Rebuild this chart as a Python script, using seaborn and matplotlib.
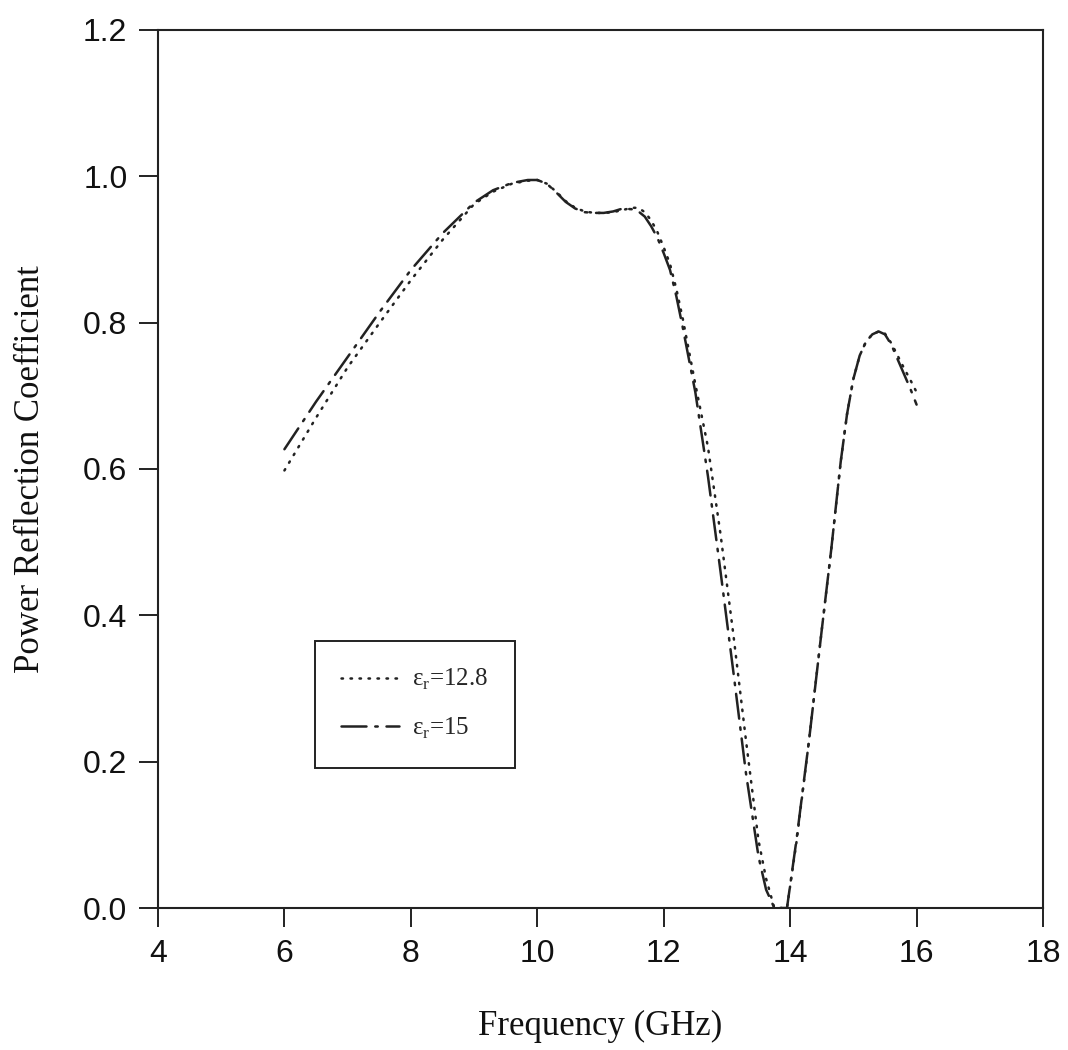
import numpy as np
import pandas as pd
import matplotlib
matplotlib.use("Agg")
import matplotlib.pyplot as plt
import seaborn as sns
from matplotlib.lines import Line2D

# Frequency grid (GHz) shared by both curves
freq = [6.0, 6.5, 7.0, 7.5, 8.0, 8.5, 9.0, 9.3, 9.6, 9.85, 10.0, 10.15, 10.3,
        10.45, 10.6, 10.75, 10.9, 11.05, 11.2, 11.35, 11.5, 11.6, 11.7, 11.8,
        11.9, 12.0, 12.1, 12.2, 12.3, 12.5, 12.7, 12.9, 13.1, 13.3, 13.5,
        13.62, 13.75, 13.95, 14.1, 14.3, 14.5, 14.65, 14.8, 14.9, 15.0, 15.1,
        15.2, 15.3, 15.4, 15.5, 15.6, 15.7, 15.8, 15.9, 16.0]

# Power reflection coefficient, eps_r = 12.8
refl_eps128 = [0.598, 0.670, 0.739, 0.799, 0.858, 0.913, 0.962, 0.979, 0.990,
               0.994, 0.995, 0.990, 0.979, 0.966, 0.957, 0.952, 0.950, 0.950,
               0.951, 0.954, 0.957, 0.957, 0.951, 0.940, 0.924, 0.903, 0.880,
               0.846, 0.806, 0.716, 0.630, 0.510, 0.375, 0.230, 0.092, 0.040,
               0.0, 0.0, 0.090, 0.230, 0.380, 0.490, 0.610, 0.675, 0.723, 0.755,
               0.774, 0.784, 0.788, 0.785, 0.772, 0.755, 0.738, 0.722, 0.705]

# Power reflection coefficient, eps_r = 15
refl_eps15 = [0.627, 0.692, 0.753, 0.814, 0.872, 0.922, 0.964, 0.981, 0.991,
              0.995, 0.995, 0.990, 0.978, 0.965, 0.956, 0.951, 0.950, 0.950,
              0.952, 0.956, 0.955, 0.952, 0.945, 0.932, 0.916, 0.895, 0.872,
              0.836, 0.794, 0.705, 0.590, 0.459, 0.324, 0.185, 0.070, 0.025,
              0.0, 0.0, 0.093, 0.230, 0.380, 0.490, 0.610, 0.675, 0.723, 0.755,
              0.774, 0.784, 0.788, 0.784, 0.770, 0.750, 0.730, 0.710, 0.688]

series_labels = ["ε$_\\mathregular{r}$=12.8", "ε$_\\mathregular{r}$=15"]

x_ticks = [4, 6, 8, 10, 12, 14, 16, 18]
y_ticks = [0.0, 0.2, 0.4, 0.6, 0.8, 1.0, 1.2]

sns.set_theme(style="white")
plt.rcParams["font.family"] = ["Liberation Sans", "DejaVu Sans"]
plt.rcParams["mathtext.fontset"] = "custom"
plt.rcParams["mathtext.rm"] = "Liberation Serif"

df = pd.concat([
    pd.DataFrame({"freq": freq, "refl": refl_eps128, "series": series_labels[0]}),
    pd.DataFrame({"freq": freq, "refl": refl_eps15, "series": series_labels[1]}),
])

fig = plt.figure(figsize=(10.68, 10.50), dpi=100)
ax = fig.add_axes([158 / 1068, 1 - 908 / 1050, 885 / 1068, 878 / 1050])

ink = "#222222"
dash_styles = {series_labels[0]: (0.6, 3.0), series_labels[1]: (10, 3.5, 1, 3.5)}
sns.lineplot(data=df, x="freq", y="refl", style="series",
             dashes=dash_styles, color=ink, linewidth=1.8, ax=ax,
             legend=False, sort=False)
for ln in ax.get_lines():
    ln.set_dash_capstyle("round")
    ln.set_solid_joinstyle("round")

ax.set_xlim(4, 18)
ax.set_ylim(0, 1.2)
ax.set_xticks(x_ticks)
ax.set_xticklabels([str(t) for t in x_ticks])
ax.set_yticks(y_ticks)
ax.set_yticklabels([f"{t:.1f}" for t in y_ticks])
ax.tick_params(axis="both", which="major", bottom=True, left=True,
               top=False, right=False, direction="out", length=14,
               width=1.4, color=ink, labelsize=23, labelcolor="#111111")
ax.tick_params(axis="x", pad=8)
ax.tick_params(axis="y", pad=8)
for sp in ax.spines.values():
    sp.set_visible(True)
    sp.set_color(ink)
    sp.set_linewidth(1.5)

ax.set_xlabel("Frequency (GHz)", family="Liberation Serif", fontsize=25,
              color="#111111", labelpad=30)
ax.set_ylabel("Power Reflection Coefficient", family="Liberation Serif",
              fontsize=25, color="#111111", labelpad=26)

handles = [Line2D([], [], color=ink, linewidth=1.8, dashes=dash_styles[s],
                  dash_capstyle="round") for s in series_labels]
leg = ax.legend(handles, series_labels, loc="upper left",
                bbox_to_anchor=((315 - 158) / 885, (908 - 641) / 878),
                prop={"family": "Liberation Serif", "size": 18},
                frameon=True, fancybox=False, framealpha=1,
                edgecolor=ink, handlelength=2.3, handletextpad=0.55,
                borderpad=1.05, labelspacing=0.95, borderaxespad=0)
leg.get_frame().set_linewidth(1.4)

fig.savefig("out.png", dpi=100, facecolor="white")
